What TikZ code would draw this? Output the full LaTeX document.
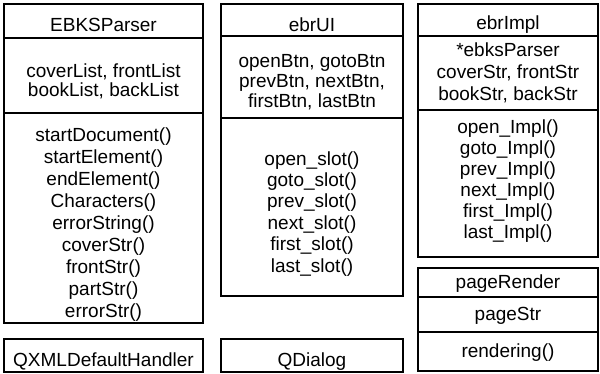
\documentclass[tikz,border=0pt]{standalone}
\usepackage{fontspec}
\setmainfont{Liberation Sans}
\begin{document}
\begin{tikzpicture}[x=1pt,y=-1pt,
  boxline/.style={draw=black,line width=1.7pt},
  txt/.style={inner sep=0pt,anchor=base,font=\fontsize{19}{21}\selectfont}]
\useasboundingbox (0,0) rectangle (600,373);
% ---------- column 1: EBKSParser ----------
\draw[boxline] (4,4) rectangle (203,323);
\draw[boxline] (4,38) -- (203,38);
\draw[boxline] (4,113) -- (203,113);
\node[txt] (p0) at (103.5,31) {EBKSParser};
\node[txt] (pa1) at (103.5,77.5) {coverList, frontList};
\node[txt] (pa2) at (103.5,96.5) {bookList, backList};
\foreach \t [count=\i] in {startDocument(),startElement(),endElement(),Characters(),errorString(),coverStr(),frontStr(),partStr(),errorStr()}
  \node[txt] (pm\i) at ({103.5},{141+22*(\i-1)}) {\t};
\draw[boxline] (4,339) rectangle (203,372);
\node[txt] (q1) at (103.5,366) {QXMLDefaultHandler};
% ---------- column 2: ebrUI ----------
\draw[boxline] (221,4) rectangle (403,296);
\draw[boxline] (221,36) -- (403,36);
\draw[boxline] (221,118) -- (403,118);
\node[txt] (u0) at (312,31) {ebrUI};
\node[txt] (ua1) at (312,67) {openBtn, gotoBtn};
\node[txt] (ua2) at (312,87) {prevBtn, nextBtn,};
\node[txt] (ua3) at (312,107) {firstBtn, lastBtn};
\foreach \t [count=\i] in {open\_slot(),goto\_slot(),prev\_slot(),next\_slot(),first\_slot(),last\_slot()}
  \node[txt] (um\i) at ({312},{165+21.4*(\i-1)}) {\t};
\draw[boxline] (221,339) rectangle (403,372);
\node[txt] (q2) at (312,366) {QDialog};
% ---------- column 3: ebrImpl ----------
\draw[boxline] (418,4) rectangle (598,257);
\draw[boxline] (418,36) -- (598,36);
\draw[boxline] (418,110) -- (598,110);
\node[txt] (i0) at (508,29) {ebrImpl};
\node[txt] (ia1) at (508,56) {*ebksParser};
\node[txt] (ia2) at (508,78) {coverStr, frontStr};
\node[txt] (ia3) at (508,100) {bookStr, backStr};
\foreach \t [count=\i] in {open\_Impl(),goto\_Impl(),prev\_Impl(),next\_Impl(),first\_Impl(),last\_Impl()}
  \node[txt] (im\i) at ({508},{133+21*(\i-1)}) {\t};
% ---------- pageRender ----------
\draw[boxline] (418,268) rectangle (598,371);
\draw[boxline] (418,297) -- (598,297);
\draw[boxline] (418,332) -- (598,332);
\node[txt] (r0) at (508,288) {pageRender};
\node[txt] (r1) at (508,320) {pageStr};
\node[txt] (r2) at (508,357) {rendering()};
\end{tikzpicture}
\end{document}
